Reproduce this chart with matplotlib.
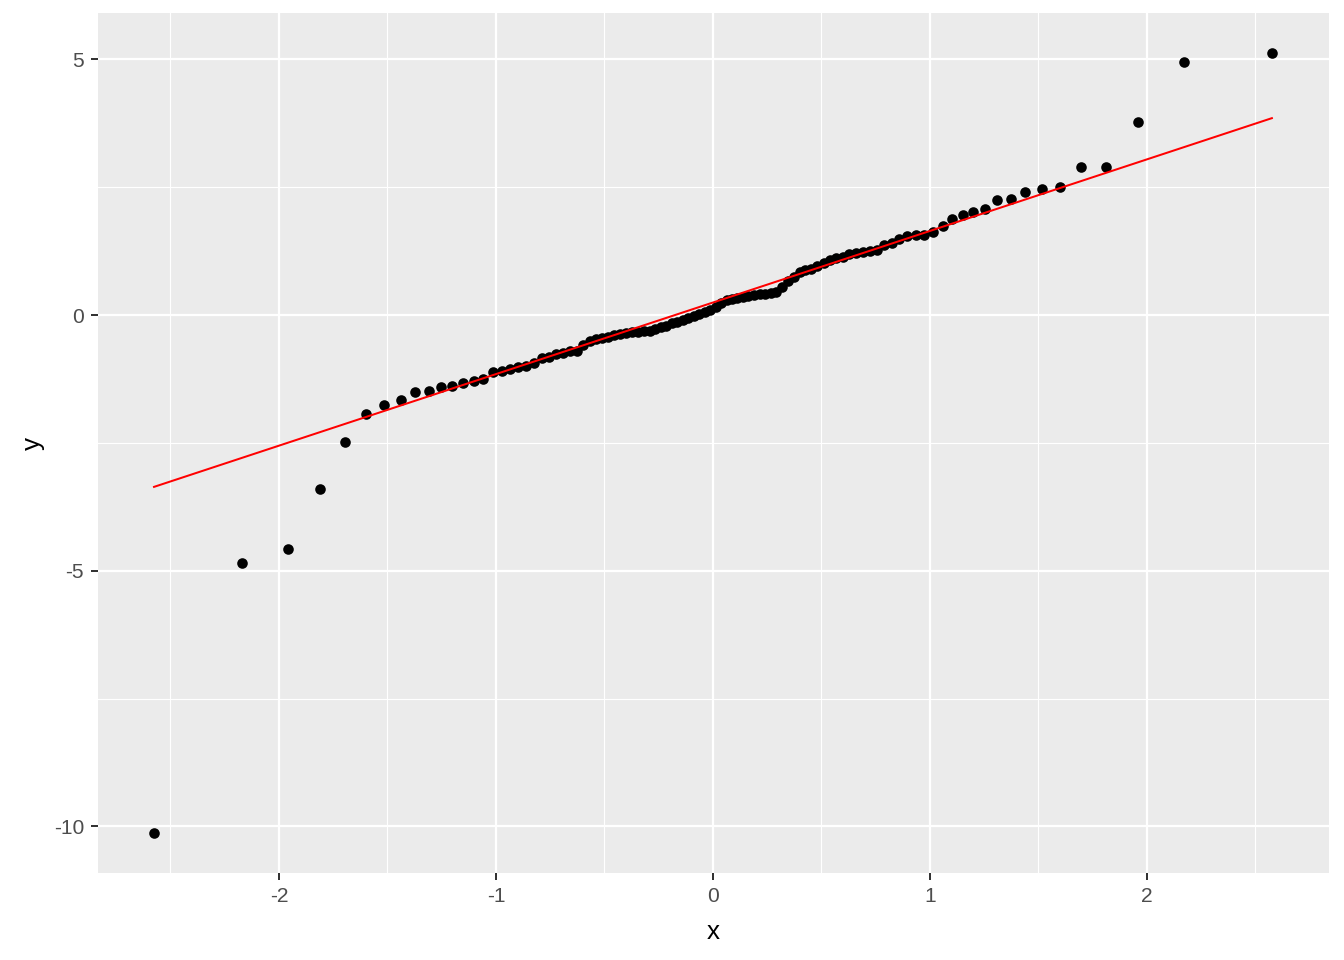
import matplotlib
matplotlib.use("Agg")
import matplotlib.pyplot as plt
from matplotlib.ticker import MultipleLocator

plt.rcParams['font.family'] = ['Liberation Sans', 'DejaVu Sans']
plt.rcParams['axes.unicode_minus'] = False

# theoretical normal quantiles (x) and sorted sample values (y)
x_low = [-2.5758, -2.1701, -1.9600, -1.8119, -1.6954, -1.5982, -1.5141, -1.4395,
         -1.3722, -1.3106, -1.2536, -1.2004, -1.1503, -1.1031, -1.0581, -1.0152,
         -0.9741, -0.9346, -0.8965, -0.8596, -0.8239, -0.7892, -0.7554, -0.7225,
         -0.6903, -0.6588, -0.6280, -0.5978, -0.5681, -0.5388, -0.5101, -0.4817,
         -0.4538, -0.4261, -0.3989, -0.3719, -0.3451, -0.3186, -0.2924, -0.2663,
         -0.2404, -0.2147, -0.1891, -0.1637, -0.1383, -0.1130, -0.0878, -0.0627,
         -0.0376, -0.0125]
y_low = [-10.13, -4.85, -4.58, -3.41, -2.49, -1.93, -1.76, -1.66,
         -1.50, -1.48, -1.40, -1.39, -1.32, -1.28, -1.25, -1.12,
         -1.10, -1.05, -1.01, -1.00, -0.93, -0.84, -0.82, -0.76,
         -0.74, -0.71, -0.70, -0.59, -0.51, -0.47, -0.44, -0.42,
         -0.40, -0.37, -0.35, -0.34, -0.33, -0.32, -0.31, -0.28,
         -0.24, -0.21, -0.16, -0.13, -0.10, -0.06, -0.02, 0.02,
         0.06, 0.10]

x_high = [0.0125, 0.0376, 0.0627, 0.0878, 0.1130, 0.1383, 0.1637, 0.1891,
          0.2147, 0.2404, 0.2663, 0.2924, 0.3186, 0.3451, 0.3719, 0.3989,
          0.4261, 0.4538, 0.4817, 0.5101, 0.5388, 0.5681, 0.5978, 0.6280,
          0.6588, 0.6903, 0.7225, 0.7554, 0.7892, 0.8239, 0.8596, 0.8965,
          0.9346, 0.9741, 1.0152, 1.0581, 1.1031, 1.1503, 1.2004, 1.2536,
          1.3106, 1.3722, 1.4395, 1.5141, 1.5982, 1.6954, 1.8119, 1.9600,
          2.1701, 2.5758]
y_high = [0.15, 0.24, 0.29, 0.31, 0.33, 0.35, 0.37, 0.39,
          0.41, 0.42, 0.44, 0.46, 0.55, 0.66, 0.75, 0.85,
          0.88, 0.91, 0.96, 1.01, 1.08, 1.11, 1.14, 1.19,
          1.21, 1.24, 1.26, 1.28, 1.36, 1.41, 1.49, 1.54,
          1.56, 1.57, 1.62, 1.75, 1.87, 1.96, 2.01, 2.07,
          2.25, 2.27, 2.41, 2.47, 2.51, 2.90, 2.90, 3.78,
          4.95, 5.13]

# reference line endpoints
line_x = [-2.5758, 2.5758]
line_y = [-3.36, 3.85]

fig = plt.figure(figsize=(1344 / 144, 960 / 144), dpi=144)
ax = fig.add_axes([98 / 1344, 1 - 873 / 960, (1329 - 98) / 1344, (873 - 13) / 960])
ax.set_facecolor('#EBEBEB')
for s in ax.spines.values():
    s.set_visible(False)

ax.set_xlim(-2.834, 2.839)
ax.set_ylim(-10.91, 5.906)
ax.xaxis.set_major_locator(MultipleLocator(1))
ax.xaxis.set_minor_locator(MultipleLocator(0.5))
ax.yaxis.set_major_locator(MultipleLocator(5))
ax.yaxis.set_minor_locator(MultipleLocator(2.5))
ax.grid(which='major', color='white', linewidth=1.1)
ax.grid(which='minor', color='white', linewidth=0.55)
ax.set_axisbelow(True)

ax.tick_params(which='major', direction='out', length=3.5, width=1.0,
               color='#333333', labelsize=10.5, labelcolor='#4D4D4D', pad=3.5)
ax.tick_params(which='minor', length=0)

ax.scatter(x_low + x_high, y_low + y_high, s=28, color='black', zorder=3, linewidths=0)
ax.plot(line_x, line_y, color='red', linewidth=1.0, zorder=4)

ax.set_xlabel('x', fontsize=13, labelpad=7)
ax.set_ylabel('y', fontsize=13, labelpad=4.5)

fig.savefig('out.png', dpi=144)
